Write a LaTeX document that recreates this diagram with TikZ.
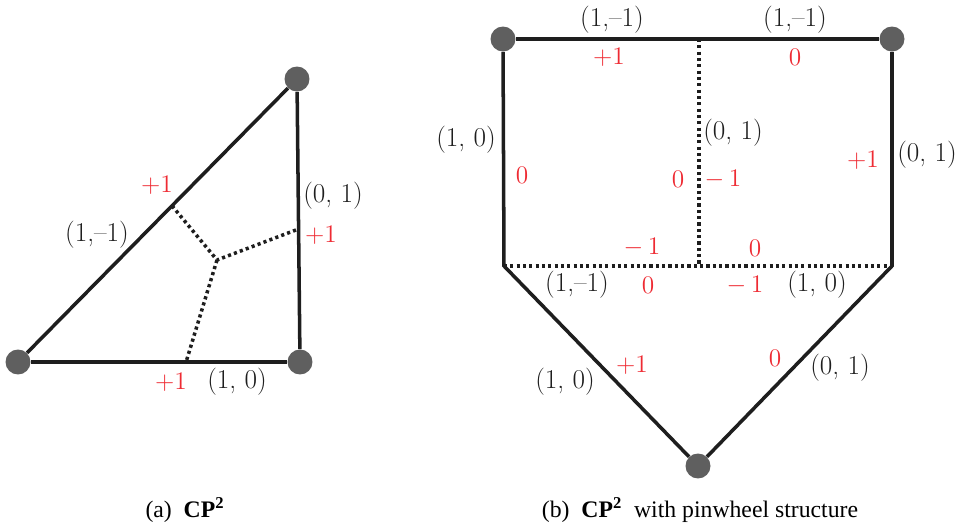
\documentclass[tikz,border=0pt]{standalone}
\usepackage{fontspec}
\newfontfamily\capfont{Liberation Serif}
\usetikzlibrary{calc}

\definecolor{edgeblack}{HTML}{1E1E1E}
\definecolor{vertgray}{HTML}{5F5F5F}
\definecolor{weightred}{HTML}{EE2B33}

\begin{document}
\begin{tikzpicture}[
    x=0.02cm, y=-0.02cm,
    vertex/.style={circle, fill=vertgray, minimum size=0.5cm, inner sep=0pt},
    edge/.style={edgeblack, line width=2pt},
    wall/.style={edgeblack, line width=2pt, dash pattern=on 1.8pt off 1.8pt},
    vec/.style={font=\fontsize{15.5}{18}\selectfont, text=edgeblack, inner sep=0pt},
    charge/.style={font=\fontsize{15.5}{18}\selectfont, text=weightred, inner sep=0pt},
    caption/.style={font=\capfont\fontsize{13.5}{16}\selectfont, inner sep=0pt},
]
\useasboundingbox (0,0) rectangle (965,527);

% (a) the triangle
\node[vertex] (ta) at (18,362) {};
\node[vertex] (tb) at (300,362) {};
\node[vertex] (tc) at (297,79) {};
\coordinate (tmid) at (217,260);
\coordinate (thyp) at ($(ta)!0.552!(tc)$);
\coordinate (tright) at ($(tb)!0.47!(tc)$);
\coordinate (tbot) at ($(ta)!0.596!(tb)$);

\draw[wall] (thyp) -- (tmid) -- (tright);
\draw[wall] (tmid) -- (tbot);
\draw[edge] (ta) -- (tb);
\draw[edge] (tb) -- (tc);
\draw[edge] (tc) -- (ta);

% (b) the pinwheel
\node[vertex] (pa) at (503,39) {};
\node[vertex] (pb) at (892,39) {};
\node[vertex] (pc) at (698,466) {};
\coordinate (qa) at (504,266);
\coordinate (qb) at (892,266);
\coordinate (mtop) at (699,39);
\coordinate (mbot) at (699,266);

\draw[wall] (mtop) -- (mbot);
\draw[wall] (qa) -- (qb);
\draw[edge] (pa) -- (pb);
\draw[edge] (pa) -- (qa) -- (pc);
\draw[edge] (pb) -- (qb) -- (pc);

% normal vectors
\foreach \x/\y/\t [count=\i] in {
    97/235/{(1,--1)}, 333/196/{(0, 1)}, 237/382/{(1, 0)},
    612/20/{(1,--1)}, 795/20/{(1,--1)}, 466/140/{(1, 0)},
    733/133/{(0, 1)}, 927/155/{(0, 1)}, 577/285/{(1,--1)},
    817/285/{(1, 0)}, 565/382/{(1, 0)}, 840/368/{(0, 1)}} {
    \node[vec] (vec\i) at (\x,\y) {\t};
}

% red weights
\foreach \x/\y/\t [count=\i] in {
    157/185/{$+1$}, 321/235/{$+1$}, 171/382/{$+1$},
    609/57/{$+1$}, 795/57/{$0$}, 522/175/{$0$},
    678/179/{$0$}, 723/179/{$-$\,$1$}, 863/160/{$+1$},
    642/247/{$-$\,$1$}, 755/248/{$0$}, 648/285/{$0$},
    745/285/{$-$\,$1$}, 632/365/{$+1$}, 775/358/{$0$}} {
    \node[charge] (wt\i) at (\x,\y) {\t};
}

\node[caption] (capa) at (185,510) {(a)\ \ {\bfseries CP\textsuperscript{2}}};
\node[caption] (capb) at (700,510) {(b)\ \ {\bfseries CP\textsuperscript{2}}\ \ with pinwheel structure};
\end{tikzpicture}
\end{document}
